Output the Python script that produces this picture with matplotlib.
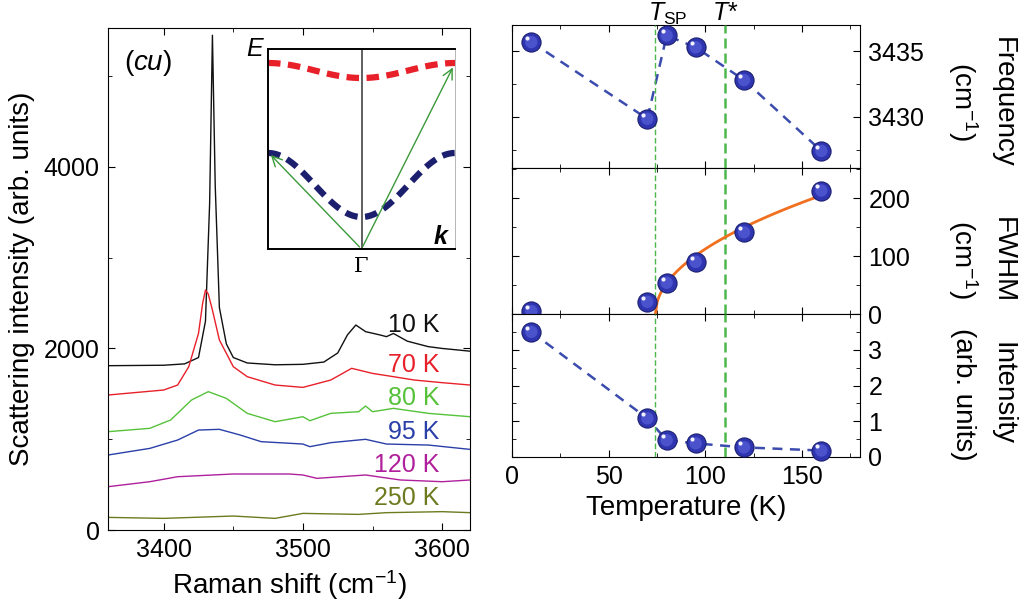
import numpy as np
import matplotlib
matplotlib.use("Agg")
import matplotlib.pyplot as plt
import matplotlib.transforms as mtrans
from matplotlib.ticker import MultipleLocator

plt.rcParams['font.family'] = ['Liberation Sans', 'DejaVu Sans']
plt.rcParams['mathtext.fontset'] = 'custom'
plt.rcParams['mathtext.rm'] = 'Liberation Sans'
plt.rcParams['mathtext.it'] = 'Liberation Sans:italic'
plt.rcParams['mathtext.bf'] = 'Liberation Sans:bold:italic'
plt.rcParams['axes.unicode_minus'] = False

# ---- spectra (Raman shift, intensity) ----
x10 = [3360, 3400, 3415, 3425, 3430, 3433, 3435, 3437, 3440, 3445, 3450, 3460, 3480, 3500, 3515, 3525, 3532, 3538, 3545, 3555, 3560, 3565, 3575, 3590, 3600, 3620]
y10 = [1810, 1815, 1830, 1900, 2300, 3600, 5450, 3800, 2450, 2050, 1900, 1840, 1820, 1825, 1850, 1950, 2150, 2258, 2185, 2150, 2130, 2165, 2080, 2020, 2000, 1970]
x70 = [3360, 3400, 3410, 3418, 3425, 3428, 3430, 3432, 3435, 3440, 3450, 3460, 3480, 3500, 3520, 3535, 3550, 3565, 3580, 3600, 3620]
y70 = [1487, 1542, 1597, 1799, 2166, 2500, 2643, 2600, 2423, 2093, 1799, 1689, 1597, 1571, 1652, 1781, 1725, 1689, 1652, 1623, 1597]
x80 = [3360, 3390, 3405, 3420, 3432, 3445, 3460, 3480, 3500, 3505, 3520, 3540, 3545, 3550, 3565, 3590, 3620]
y80 = [1083, 1120, 1212, 1432, 1524, 1450, 1285, 1193, 1248, 1204, 1285, 1303, 1366, 1303, 1340, 1285, 1248]
x95 = [3360, 3390, 3410, 3425, 3440, 3455, 3470, 3500, 3505, 3520, 3545, 3560, 3590, 3620]
y95 = [826, 899, 991, 1101, 1109, 1046, 973, 947, 918, 962, 999, 947, 936, 888]
x120 = [3360, 3390, 3410, 3450, 3490, 3500, 3510, 3545, 3570, 3600, 3620]
y120 = [477, 532, 587, 617, 617, 606, 569, 606, 551, 532, 551]
x250 = [3360, 3400, 3450, 3480, 3500, 3540, 3560, 3600, 3620]
y250 = [139, 128, 154, 128, 183, 172, 191, 202, 191]
spec_labels = ['10 K', '70 K', '80 K', '95 K', '120 K', '250 K']
label_y = [2258, 1817, 1450, 1083, 716, 349]
spec_colors = ['#111111', '#e8202a', '#55c23a', '#2a3fa8', '#b0209c', '#6e7a1e']

# ---- fit results ----
T = [10, 70, 80, 95, 120, 160]
freq = [3435.7, 3429.85, 3436.2, 3435.3, 3432.8, 3427.4]
fwhm = [5, 21, 54, 90, 141, 213]
inten = [3.5, 1.08, 0.47, 0.38, 0.27, 0.18]
T_sp = 74.2
T_star = 110.3
fit_amp = 22.1
fit_Tc = 74.2

W, H = 1033, 605
fig = plt.figure(figsize=(W/100, H/100), dpi=100)

def ax_at(l, t, r, b):
    return fig.add_axes([l/W, 1-b/H, (r-l)/W, (b-t)/H])

FS = 18
LFS = 20

# left panel
ax = ax_at(108, 28, 470, 530)
xs = [x10, x70, x80, x95, x120, x250]
ys = [y10, y70, y80, y95, y120, y250]
for xx, yy, c, lab, ly in zip(xs, ys, spec_colors, spec_labels, label_y):
    ax.plot(xx, yy, color=c, lw=1.0)
    ax.text(3598, ly, lab, color=c, ha='right', va='center', fontsize=FS)
ax.set_xlim(3360, 3620)
ax.set_ylim(0, 5530)
ax.set_xticks([3400, 3500, 3600])
ax.set_yticks([0, 2000, 4000])
ax.xaxis.set_minor_locator(MultipleLocator(50))
ax.yaxis.set_minor_locator(MultipleLocator(1000))
ax.tick_params(which='both', direction='in', top=True, right=True, labelsize=FS)
ax.tick_params(which='major', length=5, pad=6)
ax.tick_params(which='minor', length=3)
ax.set_xlabel('Raman shift (cm$^{-1}$)', fontsize=LFS, labelpad=4)
ax.set_ylabel('Scattering intensity (arb. units)', fontsize=LFS, labelpad=6)
ax.text(0.045, 0.93, '(', transform=ax.transAxes, fontsize=LFS, va='center')
ax.text(0.068, 0.93, '$\\it{cu}$)', transform=ax.transAxes, fontsize=LFS, va='center')

# inset
ins = ax_at(268, 49, 455, 249)
k = np.linspace(-1, 1, 101)
red_edge, red_mid = 0.93, 0.855
blue_edge, blue_mid = 0.48, 0.16
shape = (1 + np.cos(np.pi * k)) / 2
ins.plot(k, red_edge - (red_edge - red_mid) * shape, color='#e8202a', lw=4.5, ls=(0, (2, 1.2)))
ins.plot(k, blue_edge - (blue_edge - blue_mid) * shape, color='#1c1f6e', lw=4.5, ls=(0, (2, 1.2)))
ins.axvline(0, color='#444444', lw=1.2)
ins.annotate('', xy=(-0.99, 0.48), xytext=(0, 0), arrowprops=dict(arrowstyle='->', color='#3a9a3a', lw=1, mutation_scale=18))
ins.annotate('', xy=(0.99, 0.92), xytext=(0, 0), arrowprops=dict(arrowstyle='->', color='#3a9a3a', lw=1, mutation_scale=18))
ins.set_xlim(-1, 1)
ins.set_ylim(0, 1)
ins.set_xticks([]); ins.set_yticks([])
ins.spines['right'].set_color('#aaaaaa')
ins.spines['right'].set_linewidth(0.6)
for s in ['left', 'top', 'bottom']:
    ins.spines[s].set_linewidth(1.4)
ins.patch.set_alpha(0)
ins.text(-1.03, 1.0, '$E$', ha='right', va='center', fontsize=FS)
ins.text(0.95, 0.06, '$\\mathbf{k}$', ha='right', va='center', fontsize=FS)
ins.text(0, -0.09, 'Γ', ha='center', va='center', fontsize=15, family='DejaVu Serif')

# right panels
rax = [ax_at(512, 25, 860, 168), ax_at(512, 168, 860, 314), ax_at(512, 314, 860, 457)]
mk = dict(s=190, c='#2f35b0', edgecolors='#1c1f70', linewidths=0.8, zorder=5)
dash = dict(color='#3b4cae', lw=1.8, ls=(0, (4, 3)))

def balls(a, x, y):
    a.scatter(x, y, **mk, clip_on=False)
    a.scatter(x, y, s=80, c='#4a52cc', edgecolors='none', zorder=6, clip_on=False)
    off = a.transData + mtrans.ScaledTranslation(-3/72, 3/72, fig.dpi_scale_trans)
    a.plot(x, y, ls='none', marker='o', ms=3, mfc='#f0f0ff', mec='none',
           transform=off, zorder=7, clip_on=False)

a = rax[0]
a.plot(T, freq, **dash)
balls(a, T, freq)
a.set_ylim(3426.1, 3437.0)
a.set_yticks([3430, 3435])
a.yaxis.set_minor_locator(MultipleLocator(2.5))

a = rax[1]
tf = np.linspace(fit_Tc, 160, 100)
a.plot(tf, fit_amp * np.sqrt(tf - fit_Tc), color='#f07020', lw=2, zorder=4)
balls(a, T, fwhm)
a.set_ylim(0, 252)
a.set_yticks([0, 100, 200])
a.yaxis.set_minor_locator(MultipleLocator(50))

a = rax[2]
a.plot(T, inten, **dash)
balls(a, T, inten)
a.set_ylim(0, 4.0)
a.set_yticks([0, 1, 2, 3])
a.yaxis.set_minor_locator(MultipleLocator(0.5))
a.set_xlabel('Temperature (K)', fontsize=LFS, labelpad=4)

for i, a in enumerate(rax):
    for s in a.spines.values():
        s.set_linewidth(0.8)
    a.set_xlim(0, 180)
    a.set_xticks([0, 50, 100, 150])
    a.xaxis.set_minor_locator(MultipleLocator(25))
    a.tick_params(which='both', direction='in', top=True, right=True, left=True,
                  labelleft=False, labelright=True, labelsize=FS)
    a.tick_params(which='major', length=5, pad=6)
    a.tick_params(which='minor', length=3)
    if i < 2:
        a.tick_params(labelbottom=False)
    a.axvline(T_sp, color='#4cb84c', lw=1, ls=(0, (4, 2)), zorder=3)
    a.axvline(T_star, color='#4cb84c', lw=1.8, ls=(0, (4, 2)), zorder=3)

# right-side axis labels (two lines each, rotated)
for (l1, l2, yc) in [('Frequency', '(cm$^{-1}$)', 102), ('FWHM', '(cm$^{-1}$)', 260),
                     ('Intensity', '(arb. units)', 394)]:
    fig.text(1003/W, 1 - yc/H, l1, rotation=270, ha='center', va='center', fontsize=LFS)
    fig.text(963/W, 1 - yc/H, l2, rotation=270, ha='center', va='center', fontsize=LFS)

# temperature markers on top
tr = mtrans.blended_transform_factory(rax[0].transData, fig.transFigure)
fig.text(T_sp, 1 - 1/H, '$T_{\\rm SP}$', transform=tr, ha='left', va='top', fontsize=FS).set_x(T_sp - 4)
fig.text(T_star, 1 - 1/H, '$T$*', transform=tr, ha='center', va='top', fontsize=FS)

fig.savefig('out.png', dpi=100)
